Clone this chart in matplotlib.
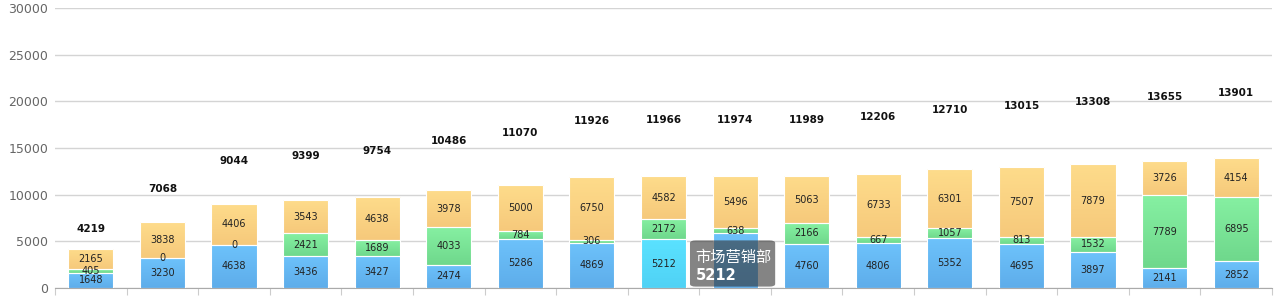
import matplotlib.pyplot as plt
from matplotlib.patches import FancyBboxPatch
from matplotlib.colors import LinearSegmentedColormap
import numpy as np

# values
blue = [1648, 3230, 4638, 3436, 3427, 2474, 5286, 4869, 5212, 5840,
        4760, 4806, 5352, 4695, 3897, 2141, 2852]
green = [405, 0, 0, 2421, 1689, 4033, 784, 306, 2172, 638,
         2166, 667, 1057, 813, 1532, 7789, 6895]
orange = [2165, 3838, 4406, 3543, 4638, 3978, 5000, 6750, 4582, 5496,
          5063, 6733, 6301, 7507, 7879, 3726, 4154]
totals = [4219, 7068, 9044, 9399, 9754, 10486, 11070, 11926, 11966, 11974,
          11989, 12206, 12710, 13015, 13308, 13655, 13901]
hover_idx = 8
hover_name = '市场营销部'


def gradient_bars(ax, bars, top, bottom):
    # fill each bar with a vertical gradient, clipped to the bar
    cmap = LinearSegmentedColormap.from_list('g', [bottom, top])
    grad = np.linspace(0, 1, 64).reshape(-1, 1)
    for bar in bars:
        if bar.get_height() <= 0:
            continue
        x0, y0 = bar.get_x(), bar.get_y()
        im = ax.imshow(grad, cmap=cmap, origin='lower', aspect='auto',
                       extent=(x0, x0 + bar.get_width(), y0,
                               y0 + bar.get_height()), zorder=2)
        im.set_clip_path(bar)
        bar.set_facecolor('none')
        bar.set_zorder(3)


fig = plt.figure(figsize=(12.74, 2.96), dpi=100)
ax = fig.add_axes([55 / 1274, 8 / 296, 1217 / 1274, 280 / 296])

x = np.arange(len(blue))
w = 0.63
b1 = ax.bar(x, blue, w, edgecolor='white', linewidth=0.8)
b2 = ax.bar(x, green, w, bottom=blue, edgecolor='white', linewidth=0.8)
bottom2 = np.array(blue) + np.array(green)
b3 = ax.bar(x, orange, w, bottom=bottom2, edgecolor='white', linewidth=0.8)

normal = [b for i, b in enumerate(b1) if i != hover_idx]
gradient_bars(ax, normal, '#6dc2fb', '#5eadea')
gradient_bars(ax, [b1[hover_idx]], '#5ae2ff', '#50d2f5')
gradient_bars(ax, b2, '#86f0a2', '#6fd88c')
gradient_bars(ax, b3, '#fedc8b', '#f6c97b')

for vals, base, name in ((blue, np.zeros(len(blue)), 'b'),
                         (green, np.array(blue), 'g'),
                         (orange, bottom2, 'o')):
    for i, v in enumerate(vals):
        if name == 'b' and i == hover_idx + 1:
            continue  # hidden behind the tooltip in the original
        ax.text(x[i], base[i] + v / 2, str(v), ha='center', va='center',
                fontsize=7, color='#222222', zorder=4)

# totals sit at 1.5x the bar height, like the original
for i, t in enumerate(totals):
    ax.text(x[i], t * 1.5, str(t), ha='center', va='center',
            fontsize=7.5, fontweight='bold', color='#111111')

ax.set_xlim(-0.5, len(blue) - 0.5)
ax.set_ylim(0, 30000)
ax.set_yticks(range(0, 30001, 5000))
ax.tick_params(axis='y', length=0, labelsize=9, labelcolor='#666666', pad=5)
ax.set_xticks(np.arange(-0.5, len(blue), 1))
ax.set_xticklabels([])
ax.tick_params(axis='x', length=5, color='#cccccc', direction='out')
ax.grid(axis='y', color='#d4d4d4', linewidth=1)
ax.set_axisbelow(True)
for s in ('top', 'right', 'left'):
    ax.spines[s].set_visible(False)
ax.spines['bottom'].set_color('#aaaaaa')

# hover tooltip
tip = FancyBboxPatch((8.37, 150), 1.19, 4950,
                     boxstyle='round,pad=0,rounding_size=0.08',
                     mutation_aspect=3500,
                     facecolor='#333333', alpha=0.6, edgecolor='none',
                     zorder=5)
ax.add_patch(tip)
ax.text(8.45, 3300, hover_name, fontsize=11, color='white', va='center',
        family=['Noto Sans CJK SC', 'DejaVu Sans'], zorder=6)
ax.text(8.45, 1350, str(blue[hover_idx]), fontsize=10.5, color='white',
        va='center', fontweight='bold', zorder=6)

fig.savefig('out.png', dpi=100)
